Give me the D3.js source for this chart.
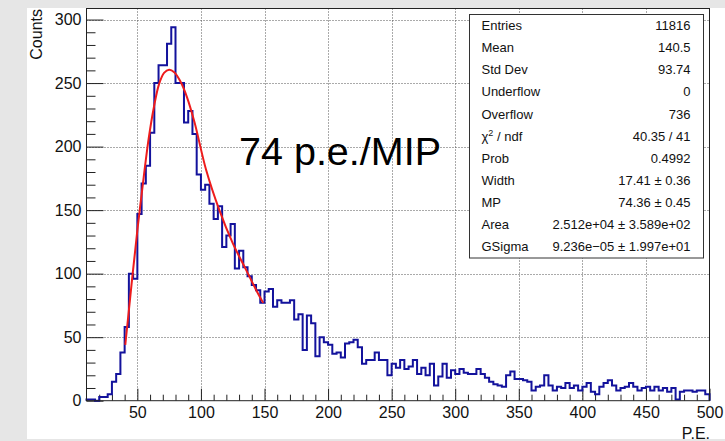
<!DOCTYPE html>
<html>
<head>
<meta charset="utf-8">
<script src="https://cdn.jsdelivr.net/npm/d3@7"></script>
<style>
  body { margin: 0; background: #e6e6e6; }
  svg { display: block; font-family: "Liberation Sans", Arial, Helvetica, sans-serif; }
</style>
</head>
<body>
<div id="chart"></div>
<script>
// histogram: 150 bins on [0,500], drawn from 10 on
const binLow = 10;
const binWidth = 10 / 3;
const counts = [
    1, 1, 0, 3, 3, 5, 15, 21, 38, 58, 100, 96, 147, 171, 185, 211, 250, 264, 264, 281,
    294, 250, 250, 219, 228, 210, 178,
    166, 170, 155, 143, 153, 121, 130, 139, 104, 118, 105, 98, 91, 87, 77, 86, 88, 74,
    79, 77, 77, 79, 64,
    68, 40, 67, 61, 35, 50, 46, 44, 37, 38, 34, 45, 46, 48, 42, 29, 32, 32, 38, 32,
    32, 20, 29, 26, 32, 25, 27, 32, 21, 26, 20, 29, 12, 19, 29, 18, 24,
    21, 25, 22, 21, 21, 25, 21, 18, 15, 13, 12, 11, 20, 23, 17, 17, 16, 15, 8, 11,
    12, 20, 12, 8, 11, 10, 14, 10, 12, 8,
    11, 14, 7, 5, 11, 14, 16, 12, 8, 10, 11, 14, 11, 8, 10, 11, 8, 11, 8, 10,
    7, 10, 1, 7, 8, 8, 7, 8, 8, 5
];

// landau fit, points
const fitX = [40.5, 43, 46, 50, 55, 59, 63, 67, 71, 75, 79, 84, 89, 95, 104, 114.5, 125, 135.5, 143.5, 149];
const fitY = [44, 68, 97, 134, 176, 207, 231, 249, 258, 260.5, 258.5, 251, 239, 219, 182, 150, 124, 103, 87, 77];

const xTicks = [50, 100, 150, 200, 250, 300, 350, 400, 450, 500];
const yTicks = [0, 50, 100, 150, 200, 250, 300];

const statNames = ['Entries', 'Mean', 'Std Dev', 'Underflow', 'Overflow', 'χ2 / ndf', 'Prob', 'Width', 'MP', 'Area', 'GSigma'];
const statValues = ['11816', '140.5', '93.74', '0', '736', '40.35 / 41', '0.4992', '17.41 ± 0.36',
    '74.36 ± 0.45', '2.512e+04 ± 3.589e+02', '9.236e\u221205 ± 1.997e+01'];

const width = 725;
const height = 441;
const frame = { left: 86.5, right: 709.5, top: 8.5, bottom: 400.7 };

const svg = d3.select('#chart')
    .append('svg')
    .attr('width', width)
    .attr('height', height);

svg.append('rect').attr('width', width).attr('height', height).attr('fill', '#e6e6e6');
svg.append('rect')
    .attr('x', 27).attr('y', 8)
    .attr('width', width - 27).attr('height', 431)
    .attr('fill', '#fff');

const x = d3.scaleLinear().domain([10, 500]).range([frame.left, frame.right]);
const y = d3.scaleLinear().domain([0, 308.7]).range([frame.bottom, frame.top]);

// dotted grid
const grid = svg.append('g').attr('stroke', '#555').attr('stroke-dasharray', '1,2').attr('stroke-width', 1);
grid.selectAll('.gx')
    .data(xTicks.filter(d => d < 500))
    .enter().append('line')
    .attr('x1', d => Math.round(x(d)) + 0.5).attr('x2', d => Math.round(x(d)) + 0.5)
    .attr('y1', frame.top).attr('y2', frame.bottom);
grid.selectAll('.gy')
    .data(yTicks.filter(d => d > 0))
    .enter().append('line')
    .attr('y1', d => Math.round(y(d)) + 0.5).attr('y2', d => Math.round(y(d)) + 0.5)
    .attr('x1', frame.left).attr('x2', frame.right);

// axes, ROOT style ticks pointing inside
const xAxis = svg.append('g')
    .attr('transform', `translate(0,${frame.bottom})`)
    .call(d3.axisBottom(x).tickValues(xTicks).tickSizeInner(-12).tickSizeOuter(0).tickPadding(6));
svg.append('g')
    .attr('transform', `translate(0,${frame.bottom})`)
    .call(d3.axisBottom(x).tickValues(d3.range(20, 500, 10).filter(d => d % 50 !== 0))
        .tickSizeInner(-6).tickSizeOuter(0).tickFormat(''));

const yAxis = svg.append('g')
    .attr('transform', `translate(${frame.left},0)`)
    .call(d3.axisLeft(y).tickValues(yTicks).tickSizeInner(-17).tickSizeOuter(0).tickPadding(5));
svg.append('g')
    .attr('transform', `translate(${frame.left},0)`)
    .call(d3.axisLeft(y).tickValues(d3.range(10, 310, 10).filter(d => d % 50 !== 0))
        .tickSizeInner(-9).tickSizeOuter(0).tickFormat(''));

svg.selectAll('.domain').remove();
svg.selectAll('.tick line').attr('stroke', '#222');
svg.selectAll('.tick text').attr('font-size', 16).attr('fill', '#111')
    .attr('font-family', '"Liberation Sans", Arial, Helvetica, sans-serif');

// histogram outline
const histPts = [[binLow, 0]];
counts.forEach((c, i) => histPts.push([binLow + i * binWidth, c]));
histPts.push([500, counts[counts.length - 1]], [500, 0]);

svg.append('path')
    .datum(histPts)
    .attr('fill', 'none')
    .attr('stroke', '#13129c')
    .attr('stroke-width', 2)
    .attr('d', d3.line().x(d => x(d[0])).y(d => y(d[1])).curve(d3.curveStepAfter));

// fit
svg.append('path')
    .datum(fitX.map((d, i) => [d, fitY[i]]))
    .attr('fill', 'none')
    .attr('stroke', '#ee1c1c')
    .attr('stroke-width', 2)
    .attr('d', d3.line().x(d => x(d[0])).y(d => y(d[1])).curve(d3.curveCatmullRom.alpha(0.5)));

// frame
svg.append('rect')
    .attr('x', frame.left).attr('y', frame.top)
    .attr('width', frame.right - frame.left).attr('height', frame.bottom - frame.top)
    .attr('fill', 'none').attr('stroke', '#222').attr('stroke-width', 1);

// axis titles
svg.append('text')
    .attr('transform', 'translate(41.5,9) rotate(-90)')
    .attr('text-anchor', 'end')
    .attr('font-size', 16)
    .attr('fill', '#111')
    .text('Counts');
svg.append('text')
    .attr('x', 710).attr('y', 438.5)
    .attr('text-anchor', 'end')
    .attr('font-size', 16)
    .attr('fill', '#111')
    .text('P.E.');

svg.append('text')
    .attr('x', 239).attr('y', 165)
    .attr('font-size', 39.5)
    .attr('fill', '#000')
    .text('74 p.e./MIP');

// stats box
const box = { x: 469.5, y: 14.5, w: 234, h: 243.5 };
const rowH = box.h / statNames.length;
const stats = svg.append('g').attr('font-size', 13).attr('fill', '#111');
stats.append('rect')
    .attr('x', box.x).attr('y', box.y).attr('width', box.w).attr('height', box.h)
    .attr('fill', '#fff').attr('stroke', '#333').attr('stroke-width', 1);

statNames.forEach((name, i) => {
    const yy = box.y + rowH * (i + 0.5) + 4.5;
    const t = stats.append('text').attr('x', box.x + 12).attr('y', yy);
    if (name.startsWith('χ2')) {
        t.append('tspan').text('χ');
        t.append('tspan').attr('font-size', 9).attr('dy', -5).text('2');
        t.append('tspan').attr('dy', 5).text(' / ndf');
    } else {
        t.text(name);
    }
    stats.append('text')
        .attr('x', box.x + box.w - 13).attr('y', yy)
        .attr('text-anchor', 'end')
        .text(statValues[i]);
});
</script>
</body>
</html>
